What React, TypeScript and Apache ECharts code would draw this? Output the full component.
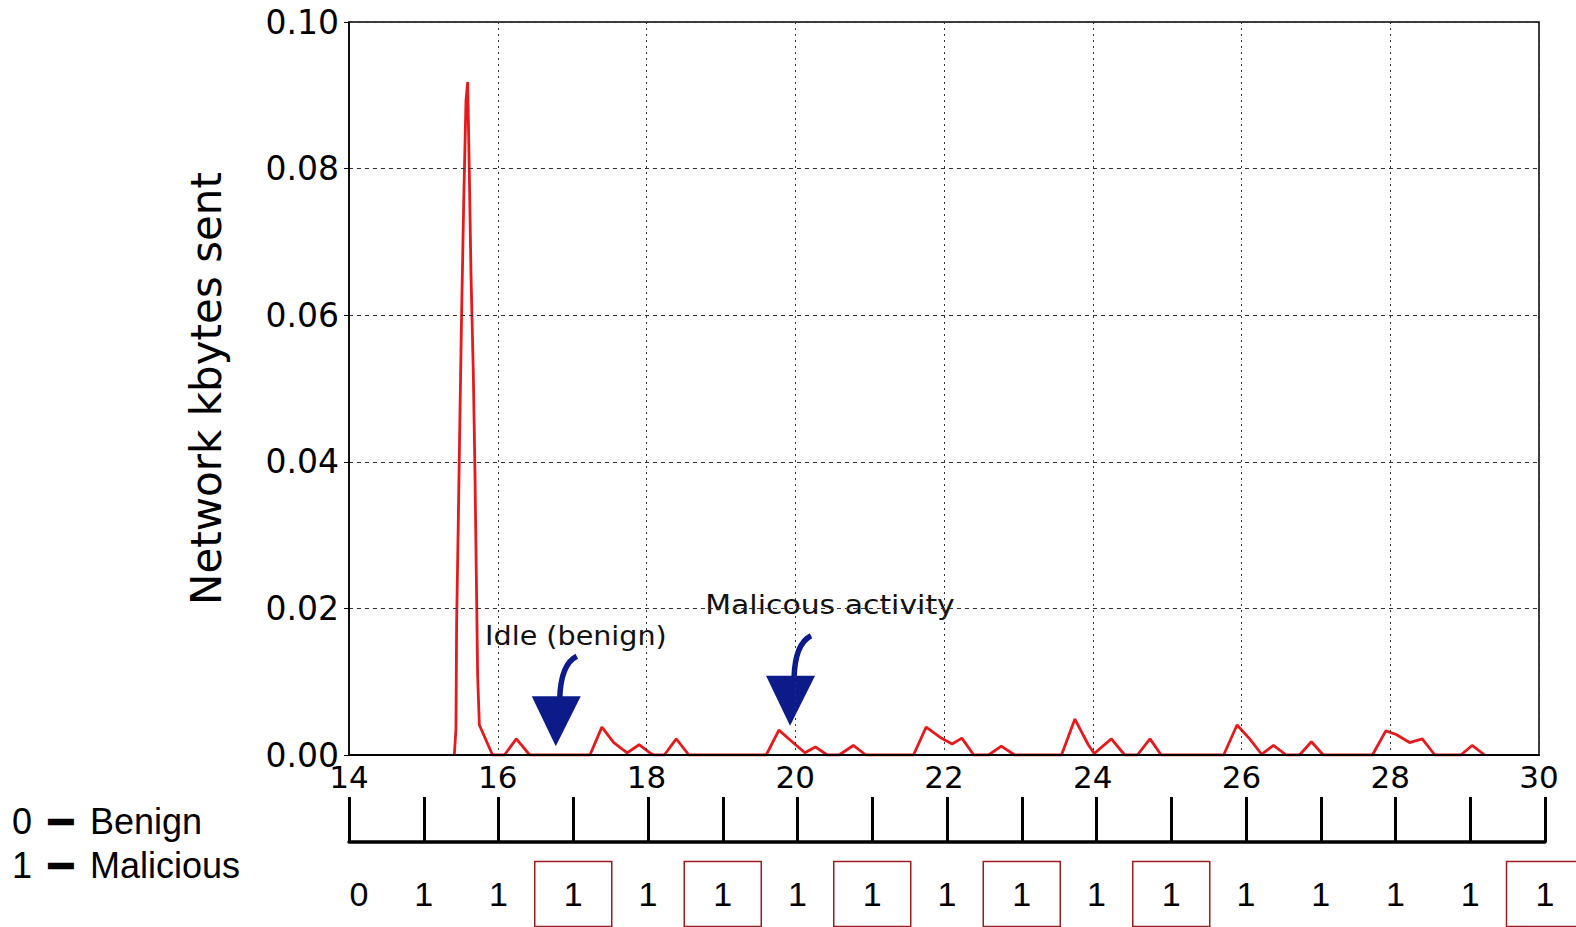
import React, { useEffect, useRef } from "react";
import * as echarts from "echarts";

// ---- data ----
const timeX: number[] = [
  15.416, 15.438, 15.447, 15.47, 15.492, 15.515, 15.542, 15.573, 15.596, 15.618, 15.64, 15.672, 15.694, 15.712, 15.73, 15.753, 15.8, 15.93,
  16.09, 16.25, 16.43,
  17.24, 17.4, 17.56, 17.74, 17.9, 18.06, 18.1,
  18.24, 18.4, 18.57,
  19.61, 19.78, 19.97, 20.13, 20.27, 20.43,
  20.59, 20.78, 20.95,
  21.59, 21.76, 21.95, 22.11, 22.24, 22.4,
  22.6, 22.77, 22.95,
  23.58, 23.76, 23.94, 24.02, 24.25, 24.43,
  24.6, 24.77, 24.92,
  25.76, 25.94, 26.11, 26.27, 26.43, 26.6,
  26.78, 26.94, 27.1,
  27.76, 27.94, 28.08, 28.26, 28.43, 28.6,
  28.95, 29.1, 29.27,
];
const kbytesSent: number[] = [
  0, 0.0035, 0.0179, 0.0321, 0.0465, 0.0607, 0.0752, 0.0893, 0.0918, 0.0792, 0.0657, 0.0519, 0.0384, 0.0245, 0.0107, 0.0041, 0.003, 0,
  0, 0.0022, 0,
  0, 0.0038, 0.0017, 0.0003, 0.0014, 0.0002, 0,
  0, 0.0022, 0,
  0, 0.0034, 0.0017, 0.0003, 0.0011, 0,
  0, 0.0013, 0,
  0, 0.0038, 0.0024, 0.0015, 0.0023, 0,
  0, 0.0012, 0,
  0, 0.0049, 0.0014, 0.0002, 0.0022, 0,
  0, 0.0022, 0,
  0, 0.0041, 0.0022, 0.0001, 0.0013, 0,
  0, 0.0018, 0,
  0, 0.0033, 0.0028, 0.0017, 0.0022, 0,
  0, 0.0013, 0,
];
const xMin = 14;
const xMax = 30;
const xStep = 2;
const yMin = 0;
const yMax = 0.1;
const yStep = 0.02;

const rulerLabels: string[] = ["0", "1", "1", "1", "1", "1", "1", "1", "1", "1", "1", "1", "1", "1", "1", "1", "1"];
const boxedIdx: number[] = [3, 5, 7, 9, 11, 16];

const legendCodes: string[] = ["0", "1"];
const legendNames: string[] = ["Benign", "Malicious"];

const annotations = [
  { text: "Idle (benign)", textX: 15.83, textY: 0.0163, tipX: 16.78, tipY: 0.0012, stretch: 1.1 },
  { text: "Malicous activity", textX: 18.79, textY: 0.0204, tipX: 19.93, tipY: 0.004, stretch: 1.15 },
];

const RED = "#e41a1c";
const NAVY = "#0d1b8a";
const BOX = "#9b1c1c";

export default function App() {
  const ref = useRef<HTMLDivElement>(null);
  useEffect(() => {
    if (!ref.current) return;
    const chart = echarts.init(ref.current, null, { renderer: "svg" });
    const seriesData = timeX.map((x, i) => [x, kbytesSent[i]]);
    const numStyle = {
      height: 65,
      lineHeight: 68,
      align: "center",
      fontFamily: "Liberation Sans",
      fontSize: 34,
      color: "#000",
    };
    chart.setOption({
      animation: false,
      backgroundColor: "#fff",
      grid: [
        { left: 349, top: 22, width: 1190, height: 733, show: true, borderColor: "#000", borderWidth: 1.5, backgroundColor: "transparent", containLabel: false, outerBoundsMode: "none" },
        { left: 349, top: 797, width: 1196, height: 45, containLabel: false, outerBoundsMode: "none" },
      ],
      xAxis: [
        {
          gridIndex: 0,
          type: "value",
          min: xMin,
          max: xMax,
          interval: xStep,
          z: 5,
          axisLine: { show: true, lineStyle: { color: "#000", width: 2 } },
          axisTick: { show: false },
          axisLabel: { color: "#000", fontFamily: "DejaVu Sans", fontSize: 31, margin: 10, lineHeight: 24 },
          splitLine: { show: true, lineStyle: { color: "#333", width: 1, type: [2, 4] } },
        },
        {
          gridIndex: 1,
          type: "value",
          min: 0,
          max: rulerLabels.length - 1,
          interval: 1,
          axisLine: { show: true, lineStyle: { color: "#000", width: 3.5 } },
          axisTick: { show: true, inside: true, length: 45, lineStyle: { color: "#000", width: 3 } },
          splitLine: { show: false },
          axisLabel: {
            margin: 18,
            formatter: (v: number) => {
              const i = Math.round(v);
              const t = rulerLabels[i] ?? "";
              if (boxedIdx.includes(i)) return `{box|${t}}`;
              return i === 0 ? `{first|${t}}` : `{plain|${t}}`;
            },
            rich: {
              box: { ...numStyle, width: 77, borderColor: BOX, borderWidth: 1.5 },
              plain: { ...numStyle },
              first: { ...numStyle, padding: [0, 0, 0, 20] },
            },
          },
        },
      ],
      yAxis: [
        {
          gridIndex: 0,
          type: "value",
          min: yMin,
          max: yMax,
          interval: yStep,
          z: 5,
          name: "Network kbytes sent",
          nameLocation: "middle",
          nameRotate: 90,
          nameGap: 122,
          nameTextStyle: { color: "#000", fontFamily: "DejaVu Sans", fontSize: 42 },
          axisLine: { show: true, lineStyle: { color: "#000", width: 1.5 } },
          axisTick: { show: true, length: 5, lineStyle: { color: "#000", width: 1 } },
          axisLabel: { color: "#000", fontFamily: "DejaVu Sans", fontSize: 33, margin: 10, lineHeight: 22, formatter: (v: number) => v.toFixed(2) },
          splitLine: { show: true, lineStyle: { color: "#333", width: 1, type: [4, 4] } },
        },
        { gridIndex: 1, type: "value", show: false, min: 0, max: 1 },
      ],
      series: [
        {
          type: "line",
          xAxisIndex: 0,
          yAxisIndex: 0,
          data: seriesData,
          showSymbol: false,
          z: 2,
          lineStyle: { color: RED, width: 2.8 },
        },
      ],
    });

    const graphic: any[] = [];
    annotations.forEach((a) => {
      const tp = chart.convertToPixel({ seriesIndex: 0 }, [a.tipX, a.tipY]) as number[];
      const txp = chart.convertToPixel({ seriesIndex: 0 }, [a.textX, a.textY]) as number[];
      graphic.push({
        type: "text",
        x: txp[0],
        y: txp[1],
        scaleX: a.stretch,
        style: { text: a.text, fontFamily: "DejaVu Sans", fontSize: 26, fill: "#111", verticalAlign: "middle", align: "left" },
      });
      graphic.push({
        type: "group",
        x: tp[0],
        y: tp[1],
        children: [
          {
            type: "bezierCurve",
            shape: { x1: 21, y1: -90, cpx1: 5, cpy1: -82, x2: 4, y2: -48 },
            style: { stroke: NAVY, lineWidth: 5.5, fill: "none" },
          },
          {
            type: "polygon",
            shape: { points: [[-24, -50], [25, -50], [0, 0]] },
            style: { fill: NAVY },
          },
        ],
      });
    });
    legendCodes.forEach((c, i) => {
      const y = 821 + i * 44;
      graphic.push({
        type: "text",
        x: 12,
        y,
        style: { text: c, fontFamily: "Liberation Sans", fontSize: 36, fill: "#000", verticalAlign: "middle", align: "left" },
      });
      graphic.push({
        type: "text",
        x: 61,
        y: y + 1,
        scaleX: 1.1,
        style: { text: "━", fontFamily: "DejaVu Sans", fontSize: 38, fill: "#000", verticalAlign: "middle", align: "center" },
      });
      graphic.push({
        type: "text",
        x: 90,
        y,
        style: { text: legendNames[i], fontFamily: "Liberation Sans", fontSize: 36, fill: "#000", verticalAlign: "middle", align: "left" },
      });
    });
    chart.setOption({ graphic });

    return () => chart.dispose();
  }, []);
  return <div ref={ref} style={{ position: "fixed", left: 0, top: 0, width: 1576, height: 927, background: "#fff" }} />;
}
